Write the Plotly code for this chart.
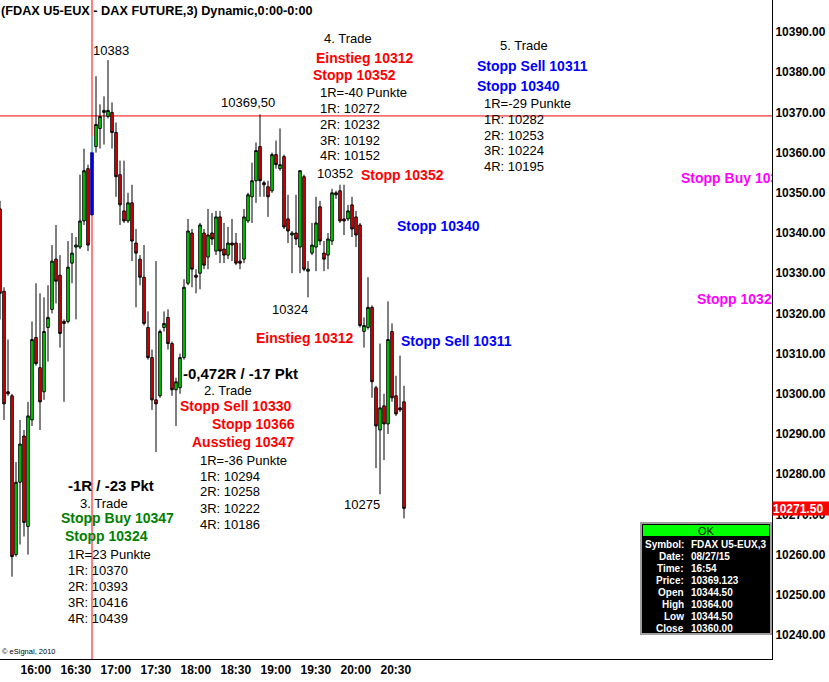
import pandas as pd
import plotly.graph_objects as go

# ---------------- data ----------------
title_text = "(FDAX U5-EUX - DAX FUTURE,3) Dynamic,0:00-0:00"
start_time = "2015-08-27 15:45"
bar_minutes = 3

opens = [10346, 10325.5, 10300.5, 10299.5, 10260, 10278, 10289.5, 10267, 10293.5, 10314,
         10306.5, 10300.5, 10316.5, 10321, 10333.5, 10329.5, 10318, 10318, 10332.5, 10336.5,
         10336.5, 10343, 10356, 10344.5, 10361.5, 10366, 10370, 10369, 10370, 10365,
         10354.5, 10345.5, 10343, 10347.5, 10337.5, 10333.5, 10329, 10316.5, 10309, 10298.5,
         10299.5, 10316.5, 10319, 10312.5, 10301, 10301.5, 10309, 10327.5, 10340, 10329.5,
         10330, 10340, 10334, 10340, 10335.5, 10344, 10336, 10334.5, 10337.5, 10337.5,
         10333, 10333.5, 10343, 10349, 10353, 10361.5, 10352.5, 10351.5, 10350.5, 10359.5,
         10356, 10359, 10343.5, 10339.5, 10340, 10336.5, 10354, 10330.5, 10335, 10336.5,
         10346.5, 10335, 10334.5, 10338, 10350, 10350.5, 10343.5, 10343.5, 10347, 10344,
         10342, 10315.5, 10316.5, 10321.5, 10301.5, 10291, 10297, 10292.5, 10315.5, 10299.5,
         10296.5, 10298]
highs = [10348, 10326.5, 10313.5, 10300, 10283, 10293.5, 10291, 10298, 10318, 10327.5,
         10325, 10324, 10327, 10337, 10342, 10334.5, 10318.5, 10338, 10340, 10339,
         10354.5, 10361, 10357, 10364, 10379, 10372, 10374, 10383, 10372.5, 10367.5,
         10358, 10358, 10350, 10352, 10341, 10334.5, 10337, 10320.5, 10311, 10333,
         10316, 10320.5, 10321, 10313, 10304, 10310, 10328.5, 10343.5, 10341, 10331,
         10342.5, 10341, 10346, 10345, 10345.5, 10345.5, 10342.5, 10341.5, 10343.5, 10340,
         10337.5, 10346, 10350, 10357.5, 10362.5, 10369.5, 10353, 10353, 10360, 10363,
         10366, 10359.5, 10349.5, 10340.5, 10349.5, 10355.5, 10354.5, 10333, 10342.5, 10349,
         10348, 10338, 10340, 10351, 10350.5, 10352, 10352, 10347, 10349, 10345.5,
         10342.5, 10319, 10329, 10322, 10302, 10312.5, 10300, 10323, 10317.5, 10304.5,
         10309.5, 10302]
lows = [10318.5, 10293.5, 10299.5, 10254.5, 10259.5, 10262.5, 10264.5, 10260, 10292, 10307,
        10291, 10298.5, 10308, 10320, 10322.5, 10311.5, 10298, 10317.5, 10327.5, 10318.5,
        10336, 10342, 10335.5, 10344.5, 10360, 10361, 10362, 10368.5, 10361, 10349,
        10342, 10342.5, 10342.5, 10333, 10321.5, 10327, 10317, 10308.5, 10296, 10285.5,
        10299, 10315.5, 10311, 10299.5, 10292, 10300, 10308.5, 10327, 10326.5, 10325,
        10326, 10331, 10331, 10337, 10334.5, 10332.5, 10332.5, 10333.5, 10333, 10332,
        10331, 10332.5, 10342.5, 10342.5, 10347.5, 10349, 10349, 10344, 10350, 10356,
        10355.5, 10341, 10337.5, 10330, 10337, 10330, 10330.5, 10324, 10334.5, 10330.5,
        10337, 10330.5, 10331, 10337, 10348.5, 10342.5, 10339.5, 10343, 10339, 10336.5,
        10316.5, 10311.5, 10316, 10299, 10281.5, 10275, 10283.5, 10290, 10298, 10294.5,
        10295.5, 10269]
closes = [10325, 10297.5, 10300, 10259.5, 10278, 10287.5, 10268, 10294.5, 10313.5, 10307.5,
          10298, 10315.5, 10319, 10333, 10328, 10315, 10317.5, 10331.5, 10335, 10337,
          10343, 10355.5, 10337, 10360, 10367, 10369, 10370.5, 10370.5, 10365, 10354,
          10347, 10343, 10347.5, 10338, 10335, 10329, 10317.5, 10309, 10298.5, 10297.5,
          10315.5, 10317.5, 10312.5, 10301, 10303, 10309, 10326.5, 10340.5, 10331, 10329,
          10342, 10332, 10339.5, 10338.5, 10344, 10335.5, 10334.5, 10337.5, 10337, 10332.5,
          10332.5, 10344, 10349.5, 10353, 10360.5, 10353, 10352, 10349, 10359.5, 10357,
          10357, 10341.5, 10340.5, 10340, 10338.5, 10355.5, 10331, 10331, 10337, 10342.5,
          10338, 10333.5, 10338.5, 10350, 10349.5, 10343, 10343, 10345.5, 10341, 10339.5,
          10317, 10317, 10321.5, 10303, 10292, 10296.5, 10292.5, 10313.5, 10299, 10295,
          10296, 10271.5]

highlight_index = 23            # 16:54 bar (data window)
crosshair_price = 10369.123
last_price = 10271.50

y_ticks = [10240, 10250, 10260, 10270, 10280, 10290, 10300, 10310, 10320, 10330,
           10340, 10350, 10360, 10370, 10380, 10390]
x_tick_labels = ["16:00", "16:30", "17:00", "17:30", "18:00", "18:30", "19:00", "19:30", "20:00", "20:30"]

dw_labels = ["Symbol:", "Date:", "Time:", "Price:", "Open", "High", "Low", "Close"]
dw_values = ["FDAX U5-EUX,3", "08/27/15", "16:54", "10369.123", "10344.50", "10364.00", "10344.50", "10360.00"]

# ---------------- layout geometry ----------------
W, H = 829, 682
ML, MR, MT, MB = 0, 57, 0, 23
PW, PH = W - ML - MR, H - MT - MB
FONT = "Liberation Sans, Arial, sans-serif"

times = pd.date_range(start_time, periods=len(opens), freq=f"{bar_minutes}min")
t0 = times[0]
px_per_bar = 4.0
x_end = t0 + pd.Timedelta(minutes=bar_minutes * PW / px_per_bar)
y_top = 10390 + 32 / 4.02
y_bot = 10390 - (PH - 32) / 4.02


def X(px):
    return px / PW


def Y(py):
    return 1 - py / PH


def tx(px):
    return t0 + pd.Timedelta(minutes=bar_minutes * px / px_per_bar)


def ty(py):
    return y_top - py * (y_top - y_bot) / PH


idx = [i for i in range(len(opens)) if i != highlight_index]

fig = go.Figure()
fig.add_trace(go.Candlestick(
    x=[times[i] for i in idx],
    open=[opens[i] for i in idx], high=[highs[i] for i in idx],
    low=[lows[i] for i in idx], close=[closes[i] for i in idx],
    increasing=dict(line=dict(color="black", width=1), fillcolor="#00EE00"),
    decreasing=dict(line=dict(color="black", width=1), fillcolor="#FF0000"),
    whiskerwidth=0, showlegend=False, hoverinfo="skip"))

h = highlight_index
fig.add_trace(go.Scatter(x=[times[h], times[h]], y=[closes[h], highs[h]], mode="lines",
                         line=dict(color="#00FFFF", width=1), showlegend=False, hoverinfo="skip"))
fig.add_trace(go.Candlestick(
    x=[times[h]], open=[opens[h]], high=[closes[h]], low=[lows[h]], close=[closes[h]],
    increasing=dict(line=dict(color="#00008B", width=1), fillcolor="#0000FF"),
    decreasing=dict(line=dict(color="#00008B", width=1), fillcolor="#0000FF"),
    showlegend=False, hoverinfo="skip"))

# clipped magenta labels at right edge
for txt, px, py in [("Stopp Buy 10347", 681, 179), ("Stopp 10324", 697, 300)]:
    fig.add_trace(go.Scatter(x=[tx(px)], y=[ty(py)], mode="text", text=[txt],
                             textposition="middle right", cliponaxis=True,
                             textfont=dict(family=FONT, size=14, color="#FF00FF", weight="bold"),
                             showlegend=False, hoverinfo="skip"))

shapes = [
    dict(type="line", xref="x", yref="paper", x0=times[h], x1=times[h], y0=0, y1=1,
         line=dict(color="#FF0000", width=1), layer="below"),
    dict(type="line", xref="paper", yref="y", x0=0, x1=1, y0=crosshair_price, y1=crosshair_price,
         line=dict(color="#FF0000", width=1), layer="below"),
    dict(type="rect", xref="paper", yref="paper", x0=X(641), x1=X(771), y0=Y(634), y1=Y(523),
         fillcolor="black", line=dict(color="#A0A0A0", width=2), layer="above"),
    dict(type="rect", xref="paper", yref="paper", x0=X(643), x1=X(769), y0=Y(536), y1=Y(525),
         fillcolor="#00FF00", line=dict(width=0), layer="above"),
]

annotations = []


def note(text, px, py, color="black", size=13, bold=False, anchor="left", shift=None):
    if shift is None:
        shift = -2 if anchor == "left" else 0
    annotations.append(dict(text=text, x=X(px + shift), y=Y(py), xref="paper", yref="paper",
                            xanchor=anchor, yanchor="middle", showarrow=False,
                            font=dict(family=FONT, size=size, color=color,
                                      weight="bold" if bold else "normal")))


note(title_text, 1, 11, size=12.7, bold=True)
note("© eSignal, 2010", 2, 651, size=7.5)

black_plain = [
    ("10383", 93, 50), ("10369,50", 221, 102), ("4. Trade", 324, 38),
    ("1R=-40 Punkte", 320, 92), ("1R: 10272", 320, 108), ("2R: 10232", 320, 124),
    ("3R: 10192", 320, 140), ("4R: 10152", 320, 156), ("10352", 317, 174),
    ("5. Trade", 500, 45), ("1R=-29 Punkte", 484, 103), ("1R: 10282", 484, 119),
    ("2R: 10253", 484, 135), ("3R: 10224", 484, 151), ("4R: 10195", 484, 167),
    ("10324", 272, 310), ("2. Trade", 204, 390), ("1R=-36 Punkte", 200, 460),
    ("1R: 10294", 200, 476), ("2R: 10258", 200, 492), ("3R: 10222", 200, 508),
    ("4R: 10186", 200, 524), ("10275", 344, 504), ("3. Trade", 80, 503),
    ("1R=23 Punkte", 68, 554), ("1R: 10370", 68, 570), ("2R: 10393", 68, 586),
    ("3R: 10416", 68, 602), ("4R: 10439", 68, 618),
]
for t, x, y in black_plain:
    note(t, x, y, size=13)

for t, x, y in [("-0,472R / -17 Pkt", 183, 373), ("-1R / -23 Pkt", 68, 485)]:
    note(t, x, y, size=15, bold=True)

colored = [
    ("Einstieg 10312", 316, 58, "#FF0000"), ("Stopp 10352", 313, 75, "#FF0000"),
    ("Stopp 10352", 361, 175, "#FF0000"), ("Einstieg 10312", 256, 338, "#FF0000"),
    ("Stopp Sell 10330", 180, 406, "#FF0000"), ("Stopp 10366", 212, 424, "#FF0000"),
    ("Ausstieg 10347", 192, 442, "#FF0000"),
    ("Stopp Sell 10311", 477, 66, "#0000FF"), ("Stopp 10340", 477, 86, "#0000FF"),
    ("Stopp 10340", 397, 226, "#0000FF"), ("Stopp Sell 10311", 401, 341, "#0000FF"),
    ("Stopp Buy 10347", 61, 518, "#008000"), ("Stopp 10324", 65, 536, "#008000"),
]
for t, x, y, c in colored:
    note(t, x, y, color=c, size=14, bold=True)

# data window
note("OK", 706, 530.5, size=11, anchor="center")
for i, (lab, val) in enumerate(zip(dw_labels, dw_values)):
    yy = 544 + 12 * i
    note(lab, 686, yy, color="white", size=10, bold=True, anchor="right", shift=0)
    note(val, 689, yy, color="white", size=10, bold=True, anchor="left", shift=0)

# last price marker on the axis
annotations.append(dict(text=f"{last_price:.2f}", x=1, y=last_price, xref="paper", yref="y",
                        xanchor="left", yanchor="middle", showarrow=False, bgcolor="#FF0000",
                        width=56, height=13, align="left", borderpad=0,
                        font=dict(family=FONT, size=12, color="white", weight="bold")))

tick_times = [pd.Timestamp(f"2015-08-27 {lbl}") for lbl in x_tick_labels]

fig.update_layout(
    width=W, height=H, margin=dict(l=ML, r=MR, t=MT, b=MB, pad=0),
    paper_bgcolor="white", plot_bgcolor="white", showlegend=False, boxgap=0.1,
    shapes=shapes, annotations=annotations,
    xaxis=dict(type="date", range=[t0, x_end], rangeslider=dict(visible=False),
               tickvals=tick_times, ticktext=x_tick_labels, ticks="",
               ticklabelposition="outside right",
               tickfont=dict(family=FONT, size=12, color="black", weight="bold"),
               showgrid=False, zeroline=False, showline=True, linecolor="black", linewidth=1),
    yaxis=dict(side="right", range=[y_bot, y_top], tickvals=y_ticks, tickformat=".2f",
               ticks="", tickfont=dict(family=FONT, size=12, color="black", weight="bold"),
               showgrid=False, zeroline=False, showline=True, linecolor="black", linewidth=1),
)

fig.write_html("out.html", config={"displayModeBar": False},
               post_script="document.body.style.margin='0';")
